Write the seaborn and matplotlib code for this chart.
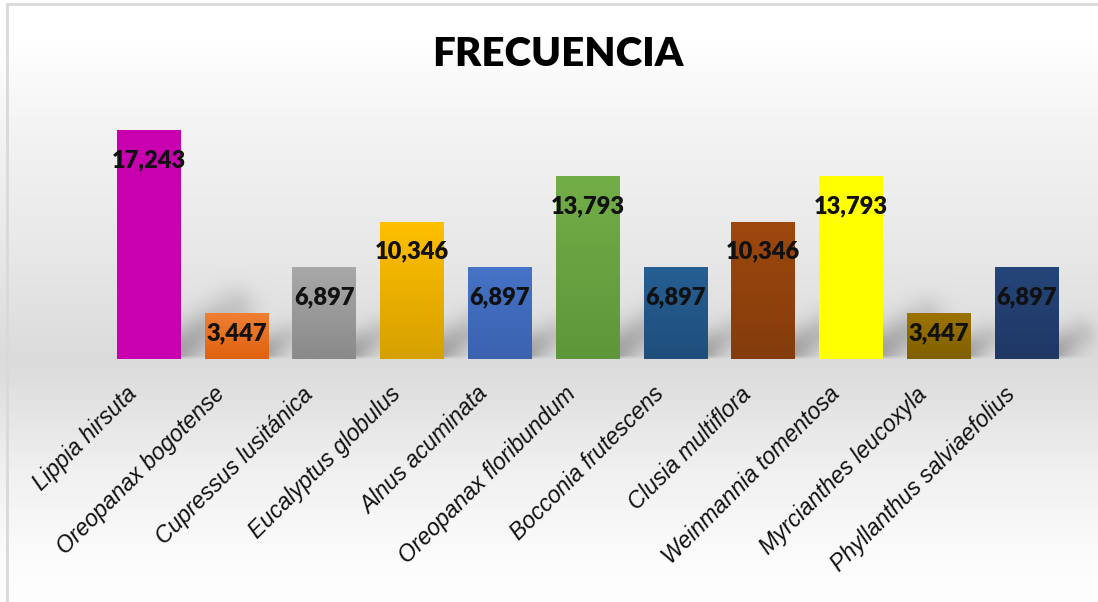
import numpy as np
import matplotlib
matplotlib.use("Agg")
import matplotlib.pyplot as plt
import matplotlib.colors as mcolors
from matplotlib.transforms import ScaledTranslation
from matplotlib.lines import Line2D
import seaborn as sns

# ---- data ----
species = ["Lippia hirsuta", "Oreopanax bogotense", "Cupressus lusitánica",
           "Eucalyptus globulus", "Alnus acuminata", "Oreopanax floribundum",
           "Bocconia frutescens", "Clusia multiflora", "Weinmannia tomentosa",
           "Myrcianthes leucoxyla", "Phyllanthus salviaefolius"]
frecuencia = [17.243, 3.447, 6.897, 10.346, 6.897, 13.793, 6.897, 10.346,
              13.793, 3.447, 6.897]
title = "FRECUENCIA"

# ---- style ----
top_colors = ["#C900AF", "#EE7F33", "#A8A8A8", "#FFC000", "#4673C6", "#72AE48",
              "#265F93", "#9E480E", "#FFFF00", "#9C7300", "#264579"]
bot_colors = ["#C900AF", "#DF6210", "#8A8A8A", "#D6A000", "#3A62B0", "#5E963A",
              "#1F4E7C", "#843C0C", "#FFFF00", "#7F6000", "#1F3864"]

W, H, DPI = 1098, 602, 100
sns.set_theme(style="white")
plt.rcParams["font.family"] = ["Liberation Sans", "DejaVu Sans"]

fig = plt.figure(figsize=(W / DPI, H / DPI), dpi=DPI)
fig.patch.set_facecolor("white")

# background axes
ax_bg = fig.add_axes([0, 0, 1, 1], zorder=0)
ax_bg.set_axis_off()

ax = fig.add_axes([104.6 / W, (H - 359) / H, 965.8 / W, 265.6 / H], zorder=1)
ax.patch.set_alpha(0)

df = {"sp": species, "f": frecuencia}
sns.barplot(x="sp", y="f", hue="sp", data=df, palette=top_colors, legend=False,
            width=0.72, ax=ax, saturation=1, linewidth=0, edgecolor="none")

YMAX = 20
ax.set_xlim(-0.5, len(species) - 0.5)
ax.set_ylim(0, YMAX)

# gradient fill for each bar
for i, p in enumerate(ax.patches):
    x0, w, h = p.get_x(), p.get_width(), p.get_height()
    c1 = np.array(mcolors.to_rgb(top_colors[i]))
    c2 = np.array(mcolors.to_rgb(bot_colors[i]))
    t = np.linspace(0, 1, 64)[:, None]
    grad = (c1 * (1 - t) + c2 * t)[:, None, :]
    im = ax.imshow(grad, extent=(x0, x0 + w, 0, h), aspect="auto",
                   origin="upper", zorder=p.get_zorder() + 0.1)
    im.set_clip_path(p)
ax.set_xlim(-0.5, len(species) - 0.5)
ax.set_ylim(0, YMAX)

px_per_unit = 265.6 / YMAX
for i, (p, v) in enumerate(zip(ax.patches, frecuencia)):
    cx = p.get_x() + p.get_width() / 2
    off = min(30 / px_per_unit, v - 26 / px_per_unit)
    ax.text(cx, v - off, f"{v:.3f}".replace(".", ","), ha="center", va="center",
            fontsize=17, fontweight="heavy", family=["Lato", "DejaVu Sans"],
            color="#111111", zorder=5)

for s in ax.spines.values():
    s.set_visible(False)
ax.set_yticks([])
ax.set_xlabel("")
ax.set_ylabel("")
ax.tick_params(axis="x", length=0, pad=17)
ax.set_xticks(range(len(species)))
ax.set_xticklabels(species, rotation=45, ha="right", va="top",
                   rotation_mode="anchor", fontsize=16.5, fontstyle="italic",
                   color="#111111")
offs = ScaledTranslation(-23 / DPI, 0, fig.dpi_scale_trans)
for lab in ax.get_xticklabels():
    lab.set_transform(lab.get_transform() + offs)

fig.text(558 / W, 1 - 55 / H, title, ha="center", va="center", fontsize=29,
         fontweight="heavy", family=["Lato", "DejaVu Sans"], color="black")

# ---- background: vertical gradient + soft floor shadows ----
fig.canvas.draw()
yy = np.arange(H)  # from top
stops_y = [0, 40, 130, 250, 360, 380, 470, 560, 602]
stops_g = [255, 255, 243, 232, 219, 222, 240, 252, 254]
gray = np.interp(yy, stops_y, stops_g)
img = np.repeat(gray[:, None], W, axis=1).astype(float)

X, Y = np.meshgrid(np.arange(W), np.arange(H))
shadow = np.zeros_like(img)
for p in ax.patches:
    bb = p.get_window_extent()
    xr = bb.x1
    yb = H - bb.y0
    hpx = bb.height
    L = np.clip(0.3 * hpx, 22, 70)
    ang = np.deg2rad(38)
    ex, ey = xr + L * np.cos(ang), yb - 8 - L * np.sin(ang)
    sx, sy = xr - 5, yb - 8
    dx, dy = ex - sx, ey - sy
    tt = np.clip(((X - sx) * dx + (Y - sy) * dy) / (dx * dx + dy * dy), 0, 1)
    d2 = (X - (sx + tt * dx)) ** 2 + (Y - (sy + tt * dy)) ** 2
    sig = 9 + 0.08 * L
    floor = np.clip((yb - Y) / 4.0, 0, 1)
    shadow = np.maximum(shadow, np.exp(-d2 / (2 * sig ** 2)) * (1 - 0.5 * tt) * floor)
img = img - 60 * shadow
img = np.clip(img, 0, 255) / 255.0
rgb = np.dstack([img, img, img])
ax_bg.imshow(rgb, extent=(0, W, H, 0), origin="upper", aspect="auto",
             interpolation="bilinear")
ax_bg.set_xlim(0, W)
ax_bg.set_ylim(H, 0)

# border
fig.add_artist(Line2D([7 / W, 7 / W], [1 - 4 / H, 0], transform=fig.transFigure,
                      color="#d9d9d9", lw=2))
fig.add_artist(Line2D([7 / W, 1], [1 - 4 / H, 1 - 4 / H], transform=fig.transFigure,
                      color="#d9d9d9", lw=2))

fig.savefig("out.png", dpi=DPI)
